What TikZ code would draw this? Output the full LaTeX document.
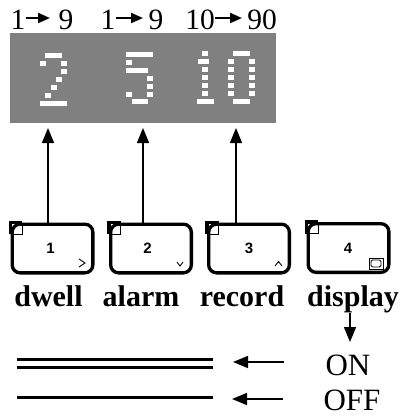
\documentclass[tikz,border=0pt]{standalone}
\usepackage{fontspec}
\setmainfont{Liberation Serif}
\newfontfamily\arialfont{Liberation Sans}
\usetikzlibrary{arrows.meta}
\tikzset{
 toplbl/.style={font=\fontsize{29.5}{29.5}\selectfont, inner sep=0pt, anchor=base},
 seg/.style={fill=white},
 panel/.style={fill=black!50},
 btn/.style={draw, line width=3.3pt, rounded corners=8pt, minimum width=80.7pt, minimum height=48.7pt, inner sep=0pt},
 num/.style={font=\arialfont\bfseries\fontsize{15}{15}\selectfont, inner sep=0pt},
 lbl/.style={font=\bfseries\fontsize{30}{30}\selectfont, inner sep=0pt, anchor=base},
 state/.style={font=\fontsize{31}{31}\selectfont, inner sep=0pt, anchor=base},
 bigarrow/.style={line width=1.5pt, -{Triangle[length=15pt,width=12pt]}},
 smallarrow/.style={line width=2pt, -{Triangle[length=12pt,width=10pt]}},
 bar/.style={line width=3pt},
 thinline/.style={line width=0.9pt},
}
\begin{document}
\begin{tikzpicture}[x=1pt,y=-1pt]
\useasboundingbox (0,0) rectangle (401,416);
% top ranges
\node[toplbl] (a1) at (18,29) {1};
\node[toplbl] (a9) at (66,29) {9};
\draw[smallarrow] (a1.east |- 0,18) -- (50,18);
\node[toplbl] (b1l) at (108,29) {1};
\node[toplbl] (b9) at (156,29) {9};
\draw[smallarrow] (b1l.east |- 0,18) -- (143,18);
\node[toplbl] (c10) at (200,29) {10};
\node[toplbl] (c90) at (262,29) {90};
\draw[smallarrow] (c10.east |- 0,18) -- (242,18);
% display panel
\fill[panel] (10,33) rectangle (276,123);
% digit 2
\fill[seg] (45,53) rectangle (62,58);
\fill[seg] (40,61) rectangle (46,66);
\fill[seg] (61,61) rectangle (67,66);
\fill[seg] (61,69) rectangle (67,74);
\fill[seg] (56,77) rectangle (62,82);
\fill[seg] (51,85) rectangle (57,90);
\fill[seg] (45,93) rectangle (51,98);
\fill[seg] (40,101) rectangle (67,106);
% digit 5
\fill[seg] (126,52) rectangle (153,57);
\fill[seg] (126,60) rectangle (132,65);
\fill[seg] (126,68) rectangle (148,73);
\fill[seg] (147,76) rectangle (153,81);
\fill[seg] (147,84) rectangle (153,89);
\fill[seg] (126,92) rectangle (132,97);
\fill[seg] (147,92) rectangle (153,97);
\fill[seg] (132,99) rectangle (148,104);
% digit 1
\fill[seg] (202,51) rectangle (208,56);
\fill[seg] (198,59) rectangle (209,64);
\foreach \yy in {67,75,83,91} \fill[seg] (202,\yy) rectangle (208,\yy+5);
\fill[seg] (197,99) rectangle (214,104);
% digit 0
\fill[seg] (233,51) rectangle (250,56);
\foreach \yy in {59,67,75,83,91} {
  \fill[seg] (228,\yy) rectangle (234,\yy+5);
  \fill[seg] (249,\yy) rectangle (255,\yy+5);
}
\fill[seg] (233,99) rectangle (250,104);
% buttons
\node[btn] (k1) at (52.5,248.5) {};
\node[btn] (k2) at (151,248.5) {};
\node[btn] (k3) at (249,248.5) {};
\node[btn] (k4) at (348.5,248) {};
\foreach \k in {k1,k2,k3,k4} {
  \draw[line width=3.3pt, line join=miter] ([yshift=-11.5pt]\k.north west) -- (\k.north west) -- ([xshift=11.5pt]\k.north west);
  \draw[thinline] ([xshift=11.5pt]\k.north west) -- ([xshift=11.5pt,yshift=-11.5pt]\k.north west) -- ([yshift=-11.5pt]\k.north west);
}
\node[num] (n1) at (50.5,248.5) {1};
\node[num] (n2) at (147.5,248.5) {2};
\node[num] (n3) at (249,248.5) {3};
\node[num] (n4) at (348,248.5) {4};
% key symbols
\draw[thinline] (79,259) -- (85,263) -- (79,267);
\draw[thinline] (177,262) -- (180,266) -- (183,262);
\draw[thinline] (275,266) -- (278.5,261.5) -- (282,266);
\draw[thinline] (369,258) rectangle (383,269);
\draw[thinline, rounded corners=1.5pt] (371,260) rectangle (381,267);
% arrows from keys to the display
\coordinate (t1) at (48,128);
\coordinate (t2) at (143,128);
\coordinate (t3) at (236,128);
\draw[bigarrow] (t1 |- k1.north) -- (t1);
\draw[bigarrow] (t2 |- k2.north) -- (t2);
\draw[bigarrow] (t3 |- k3.north) -- (t3);
% labels
\node[lbl] (l1) at (48.5,306) {dwell};
\node[lbl] (l2) at (141,306) {alarm};
\node[lbl] (l3) at (242,306) {record};
\node[lbl] (l4) at (353,306) {display};
\coordinate (dn) at (350,342);
\draw[bigarrow] (dn |- l4.south) -- (dn);
% ON / OFF
\node[state] (on) at (348,375) {ON};
\node[state] (off) at (352,410) {OFF};
\draw[bar] (17,359) -- (213,359);
\draw[bar] (17,367) -- (213,367);
\draw[bar] (17,397) -- (213,397);
\coordinate (onA) at (284,362);
\coordinate (onB) at (233,362);
\coordinate (offA) at (283,399);
\coordinate (offB) at (232,399);
\draw[bigarrow] (onA) -- (onB);
\draw[bigarrow] (offA) -- (offB);
\end{tikzpicture}
\end{document}
